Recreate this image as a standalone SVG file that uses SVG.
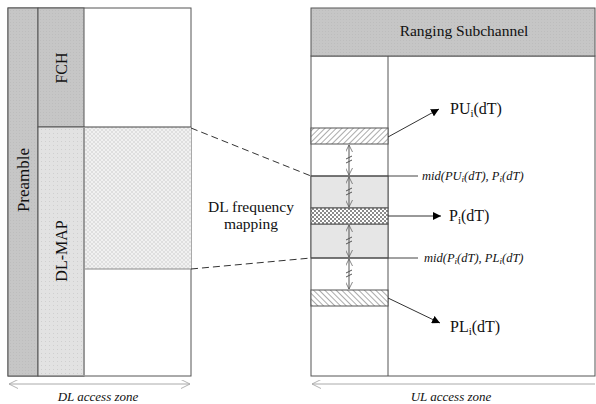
<svg xmlns="http://www.w3.org/2000/svg" width="596" height="404" viewBox="0 0 596 404">
<defs>
<pattern id="dots" width="4" height="4" patternUnits="userSpaceOnUse"><rect width="4" height="4" fill="#e2e2e2"/><rect x="1" y="1" width="1" height="1" fill="#cfcfcf"/></pattern>
<pattern id="gdots" width="3" height="3" patternUnits="userSpaceOnUse"><rect width="3" height="3" fill="#c6c6c6"/><rect x="1" y="1" width="1" height="1" fill="#bdbdbd"/></pattern>
<pattern id="xhatch" width="4" height="4" patternUnits="userSpaceOnUse"><rect width="4" height="4" fill="#f1f1f1"/><path d="M0,0 L4,4 M4,0 L0,4" stroke="#d4d4d4" stroke-width="0.6"/></pattern>
<pattern id="check" width="4" height="4" patternUnits="userSpaceOnUse"><rect width="4" height="4" fill="#ffffff"/><rect width="2" height="2" fill="#8a8a8a"/><rect x="2" y="2" width="2" height="2" fill="#8a8a8a"/></pattern>
<pattern id="fwd" width="4" height="4" patternUnits="userSpaceOnUse" patternTransform="rotate(45)"><rect width="4" height="4" fill="#fff"/><line x1="0" y1="0" x2="0" y2="4" stroke="#666" stroke-width="1.1"/></pattern>
<pattern id="back" width="4" height="4" patternUnits="userSpaceOnUse" patternTransform="rotate(-45)"><rect width="4" height="4" fill="#fff"/><line x1="0" y1="0" x2="0" y2="4" stroke="#666" stroke-width="1.1"/></pattern>
<marker id="fill" viewBox="0 0 10 10" refX="10" refY="5" markerWidth="8" markerHeight="8" markerUnits="userSpaceOnUse" orient="auto"><path d="M0,0 L10,5 L0,10 Z" fill="#000"/></marker>
<marker id="open" viewBox="0 0 10 10" refX="10" refY="5" markerWidth="7" markerHeight="7" markerUnits="userSpaceOnUse" orient="auto-start-reverse"><path d="M0,0 L10,5 L0,10" fill="none" stroke="#555" stroke-width="1"/></marker>
<marker id="openz" viewBox="0 0 10 10" refX="10" refY="5" markerWidth="9" markerHeight="9" markerUnits="userSpaceOnUse" orient="auto-start-reverse"><path d="M0,0 L10,5 L0,10" fill="none" stroke="#aaa" stroke-width="1"/></marker>
</defs>
<style>
.t{font-family:"Liberation Serif","Times New Roman",serif;fill:#111}
.ln{stroke:#555;stroke-width:1;fill:none}
.bx{stroke:#555;stroke-width:1}
</style>
<rect width="596" height="404" fill="#fff"/>

<g id="dl-zone">
<rect x="8" y="8" width="183" height="368" fill="#fff" class="bx"/>
<rect x="84" y="127" width="107" height="142" fill="url(#xhatch)"/>
<line x1="84" y1="127" x2="191" y2="127" stroke="#444"/>
<line x1="84" y1="269" x2="191" y2="269" stroke="#888"/>
</g>
<g id="preamble">
<rect x="8" y="8" width="30" height="368" fill="url(#gdots)" class="bx"/>
<text class="t" font-size="17" text-anchor="middle" transform="translate(29,180) rotate(-90)">Preamble</text>
</g>
<g id="fch">
<rect x="38" y="8" width="46" height="119" fill="url(#gdots)" class="bx"/>
<text class="t" font-size="16" text-anchor="middle" transform="translate(67,68) rotate(-90)">FCH</text>
</g>
<g id="dlmap">
<rect x="38" y="127" width="46" height="249" fill="url(#dots)" class="bx"/>
<line x1="84" y1="127" x2="84" y2="376" stroke="#999" stroke-width="2"/>
<text class="t" font-size="16" text-anchor="middle" transform="translate(67,251) rotate(-90)">DL-MAP</text>
</g>

<g id="ul-zone">
<rect x="311" y="56" width="284" height="320" fill="#fff" class="bx"/>
<line x1="388" y1="56" x2="388" y2="376" class="ln"/>
</g>
<g id="ranging">
<rect x="311" y="8" width="284" height="48" fill="url(#gdots)" class="bx"/>
<text class="t" font-size="15.5" text-anchor="middle" x="464" y="36">Ranging Subchannel</text>
</g>
<g id="gray-bands">
<rect x="311" y="176" width="77" height="32" fill="#e6e6e6" class="bx"/>
<rect x="311" y="224" width="77" height="34" fill="#e6e6e6" class="bx"/>
</g>
<g id="pu">
<rect x="311" y="128" width="77" height="16" fill="url(#fwd)" class="bx"/>
<text class="t" font-size="16" x="450" y="114">PU<tspan font-size="11" dy="3">i</tspan><tspan dy="-3">(dT)</tspan></text>
</g>
<g id="p">
<rect x="311" y="208" width="77" height="16" fill="url(#check)" class="bx"/>
<text class="t" font-size="16" x="449" y="221">P<tspan font-size="11" dy="3">i</tspan><tspan dy="-3">(dT)</tspan></text>
</g>
<g id="pl">
<rect x="311" y="290" width="77" height="16" fill="url(#back)" class="bx"/>
<text class="t" font-size="16" x="450" y="332">PL<tspan font-size="11" dy="3">i</tspan><tspan dy="-3">(dT)</tspan></text>
</g>
<g id="mid1">
<text class="t" font-size="12.5" font-style="italic" x="422" y="180">mid(PU<tspan font-size="9" dy="2">i</tspan><tspan dy="-2">(dT), P</tspan><tspan font-size="9" dy="2">i</tspan><tspan dy="-2">(dT)</tspan></text>
</g>
<g id="mid2">
<text class="t" font-size="12.5" font-style="italic" x="424" y="262">mid(P<tspan font-size="9" dy="2">i</tspan><tspan dy="-2">(dT), PL</tspan><tspan font-size="9" dy="2">i</tspan><tspan dy="-2">(dT)</tspan></text>
</g>
<g id="mapping">
<text class="t" font-size="15.5" text-anchor="middle" x="251" y="212">DL frequency</text>
<text class="t" font-size="15.5" text-anchor="middle" x="251" y="229">mapping</text>
</g>
<g id="zones">
<text class="t" font-size="13" font-style="italic" text-anchor="middle" x="98" y="401">DL access zone</text>
<text class="t" font-size="13" font-style="italic" text-anchor="middle" x="451" y="401">UL access zone</text>
</g>

<g id="connectors">
<line x1="191" y1="128" x2="311" y2="176" stroke="#333" stroke-dasharray="7,4"/>
<line x1="191" y1="269" x2="311" y2="258" stroke="#333" stroke-dasharray="7,4"/>
<line x1="311" y1="176" x2="418" y2="176" stroke="#444"/>
<line x1="311" y1="258" x2="418" y2="258" stroke="#444"/>
<line x1="388" y1="137" x2="439" y2="109" stroke="#333" marker-end="url(#fill)"/>
<line x1="388" y1="216" x2="441" y2="216" stroke="#333" marker-end="url(#fill)"/>
<line x1="388" y1="298" x2="440" y2="323" stroke="#333" marker-end="url(#fill)"/>
<line x1="349" y1="145" x2="349" y2="175" class="ln" marker-start="url(#open)" marker-end="url(#open)"/>
<line x1="349" y1="177" x2="349" y2="207" class="ln" marker-start="url(#open)" marker-end="url(#open)"/>
<line x1="349" y1="225" x2="349" y2="257" class="ln" marker-start="url(#open)" marker-end="url(#open)"/>
<line x1="349" y1="259" x2="349" y2="289" class="ln" marker-start="url(#open)" marker-end="url(#open)"/>
<path d="M346,159 L352,156 M346,163 L352,160 M346,191 L352,188 M346,195 L352,192 M346,240 L352,237 M346,244 L352,241 M346,273 L352,270 M346,277 L352,274" class="ln"/>
<line x1="9" y1="384" x2="190" y2="384" stroke="#aaa" marker-start="url(#openz)" marker-end="url(#openz)"/>
<line x1="312" y1="384" x2="595" y2="384" stroke="#aaa" marker-start="url(#openz)"/>
</g>
</svg>
